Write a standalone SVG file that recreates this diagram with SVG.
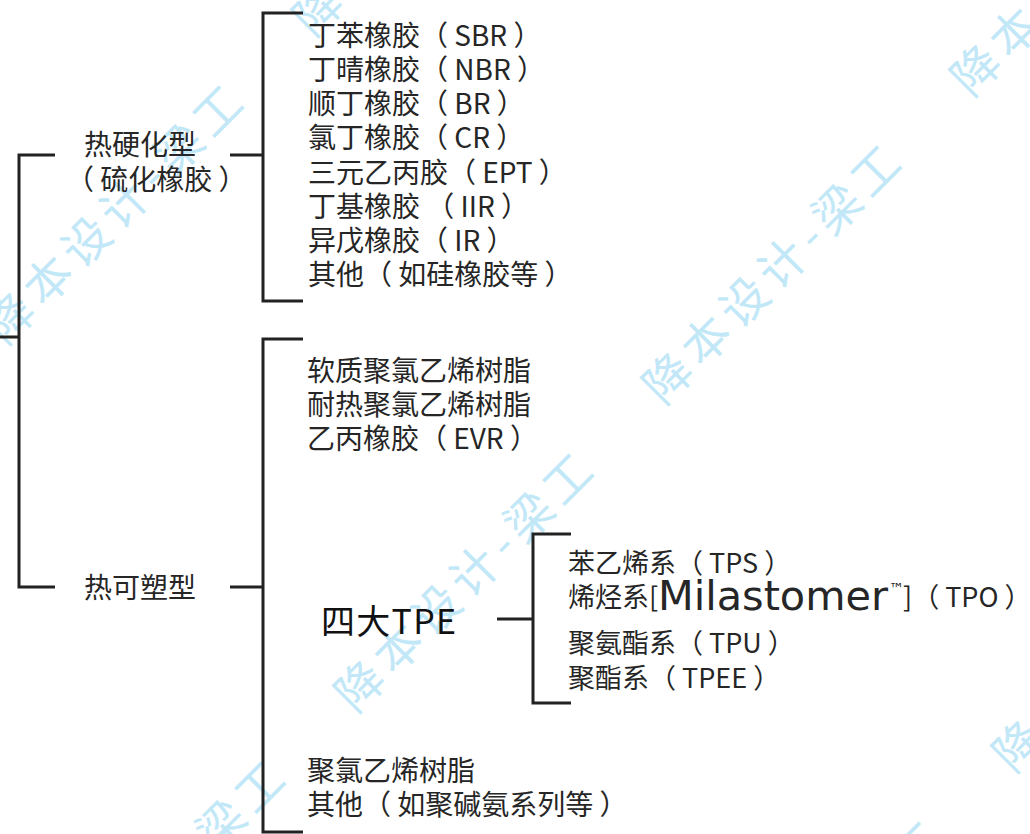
<svg xmlns="http://www.w3.org/2000/svg" width="1030" height="834" viewBox="0 0 1030 834">
<style>
.t{font-family:"Noto Sans CJK SC","Noto Sans",sans-serif;font-size:28px;fill:#262626;white-space:pre}
.s{font-size:27px}
.big{font-family:"Noto Sans CJK SC","Noto Sans",sans-serif;font-size:34px;fill:#111}
.lat{font-family:"DejaVu Sans",sans-serif;fill:#262626}
.ln{stroke:#222;stroke-width:3;fill:none;stroke-linecap:butt;stroke-linejoin:miter}
.wm{font-family:"Noto Sans CJK SC",sans-serif;font-size:47px;fill:#c2e8f8;letter-spacing:7px}
</style>
<rect width="1030" height="834" fill="#ffffff"/>
<g id="watermark">
<text class="wm" text-anchor="middle" y="17" transform="translate(424,-96) rotate(-45)">降本设计-梁工</text>
<text class="wm" text-anchor="middle" y="17" transform="translate(116,212) rotate(-45)">降本设计-梁工</text>
<text class="wm" text-anchor="middle" y="17" transform="translate(1082,-36) rotate(-45)">降本设计-梁工</text>
<text class="wm" text-anchor="middle" y="17" transform="translate(774,272) rotate(-45)">降本设计-梁工</text>
<text class="wm" text-anchor="middle" y="17" transform="translate(466,580) rotate(-45)">降本设计-梁工</text>
<text class="wm" text-anchor="middle" y="17" transform="translate(158,888) rotate(-45)">降本设计-梁工</text>
<text class="wm" text-anchor="middle" y="17" transform="translate(1124,640) rotate(-45)">降本设计-梁工</text>
<text class="wm" text-anchor="middle" y="17" transform="translate(816,948) rotate(-45)">降本设计-梁工</text>
</g>
<g id="connectors">
<path class="ln" d="M0,337 H19"/>
<path class="ln" d="M55,155 H19 V587 H55"/>
<path class="ln" d="M230,155 H263"/>
<path class="ln" d="M303,13 H263 V301 H303"/>
<path class="ln" d="M230,587 H263"/>
<path class="ln" d="M303,339 H263 V832 H303"/>
<path class="ln" d="M497,619 H533"/>
<path class="ln" d="M571,534 H533 V703 H571"/>
</g>
<g id="thermoset">
<text class="t" x="84" y="155">热硬化型</text>
<text class="t" x="66" y="190">（ 硫化橡胶 ）</text>
</g>
<g id="thermoset-items">
<text class="t" x="308" y="46">丁苯橡胶（ SBR ）</text>
<text class="t" x="308" y="80">丁晴橡胶（ NBR ）</text>
<text class="t" x="308" y="114">顺丁橡胶（ BR ）</text>
<text class="t" x="308" y="148">氯丁橡胶（ CR ）</text>
<text class="t" x="308" y="183">三元乙丙胶（ EPT ）</text>
<text class="t" x="308" y="217">丁基橡胶 （ IIR ）</text>
<text class="t" x="308" y="251">异戊橡胶（ IR ）</text>
<text class="t" x="308" y="285">其他（ 如硅橡胶等 ）</text>
</g>
<g id="thermoplastic">
<text class="t" x="84" y="598">热可塑型</text>
</g>
<g id="thermoplastic-items">
<text class="t" x="307" y="381">软质聚氯乙烯树脂</text>
<text class="t" x="307" y="415">耐热聚氯乙烯树脂</text>
<text class="t" x="307" y="449">乙丙橡胶（ EVR ）</text>
<text class="t" x="307" y="781">聚氯乙烯树脂</text>
<text class="t" x="307" y="815">其他（ 如聚碱氨系列等 ）</text>
</g>
<g id="tpe">
<text class="big" x="321" y="634" textLength="135" lengthAdjust="spacing">四大TPE</text>
</g>
<g id="tpe-items">
<text class="t s" x="568" y="573">苯乙烯系（ TPS ）</text>
<text class="t s" x="568" y="607">烯烃系[</text>
<text class="lat" x="658" y="610" font-size="40" textLength="230" lengthAdjust="spacingAndGlyphs">Milastomer</text>
<text class="lat" x="889" y="594" font-size="15">™</text>
<text class="t s" x="903" y="607">]（ TPO ）</text>
<text class="t s" x="568" y="653">聚氨酯系（ TPU ）</text>
<text class="t s" x="568" y="688">聚酯系（ TPEE ）</text>
</g>
</svg>
